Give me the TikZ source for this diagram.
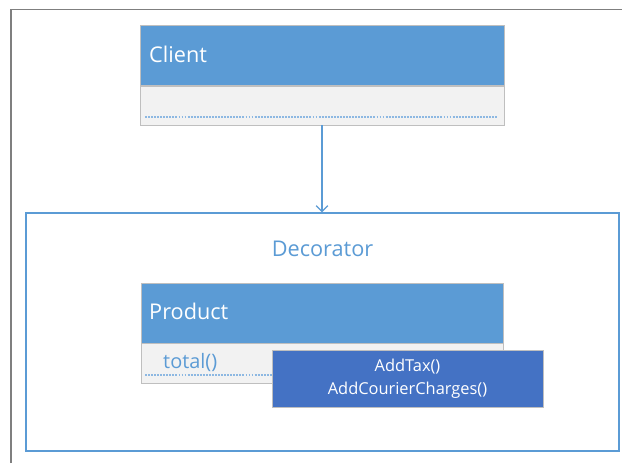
\documentclass[tikz,border=0pt]{standalone}
\usepackage{fontspec}
\setmainfont{Open Sans}
\usepackage{tikz}
\usetikzlibrary{arrows.meta}

\definecolor{hdrblue}{HTML}{5B9BD5}
\definecolor{opsblue}{HTML}{4472C4}
\definecolor{bodygray}{HTML}{F2F2F2}
\definecolor{edgegray}{HTML}{BFBFBF}
\definecolor{framegray}{HTML}{7F7F7F}
\definecolor{dotblue}{HTML}{8DB8E2}

\tikzset{
  header/.style={draw=edgegray, fill=hdrblue, minimum width=10.92cm, minimum height=1.8cm, inner sep=0pt},
  members/.style={draw=edgegray, fill=bodygray, minimum width=10.92cm, minimum height=1.2cm, inner sep=0pt},
  classname/.style={anchor=west, text=white, font=\fontsize{18.5}{20}\selectfont, inner sep=0pt},
  opsbox/.style={draw=edgegray, fill=opsblue, text=white, minimum width=8.13cm, minimum height=1.71cm, align=center, font=\fontsize{14}{20}\selectfont},
  dotline/.style={draw=dotblue, dash pattern=on 1.6pt off 1pt, line width=0.9pt},
}

\begin{document}
\begin{tikzpicture}[x=0.03cm, y=-0.03cm, >={Straight Barb[length=5pt,width=10pt]}]
%		\draw [help lines] (0,0) grid (622,463);
		\useasboundingbox [fill=white] (0,0) rectangle (622,463);
		\draw [framegray, line width=1.2pt] (11,463) -- (11,9.5) -- (622,9.5);
		% client
		\node [header] (client) at (322,55.5) {};
		\node [members, minimum height=1.17cm] (clientbody) at (322,105.5) {};
		\node [classname] (clientname) at (149,54) {Client};
		\draw [dotline] (145,117) -- (498,117);
		% decorator
		\node [draw=hdrblue, line width=1.2pt, minimum width=17.79cm, minimum height=7.14cm] (deco) at (322.5,332) {};
		\node [text=hdrblue, font=\fontsize{18.5}{20}\selectfont] (deconame) at (322.5,249) {Decorator};
		\draw [->, hdrblue, line width=1pt] (clientbody.south) -- (clientbody.south |- deco.north);
		% product
		\node [header, minimum width=10.86cm] (product) at (322,313) {};
		\node [members, minimum width=10.86cm] (productbody) at (322,363) {};
		\node [classname] (productname) at (149,311) {Product};
		\node [anchor=west, text=hdrblue, font=\fontsize{17}{18}\selectfont, inner sep=0pt] (total) at (163,362) {total()};
		\draw [dotline] (145,375) -- (498,375);
		\node [opsbox] (ops) at (407.5,378.5) {AddTax()\\AddCourierCharges()};
\end{tikzpicture}
\end{document}
